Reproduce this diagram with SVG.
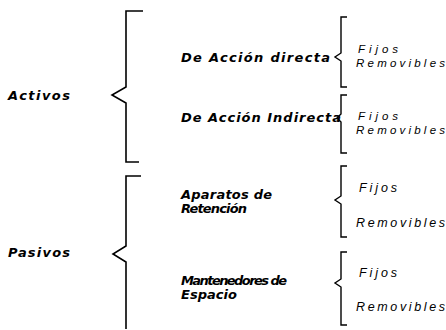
<svg xmlns="http://www.w3.org/2000/svg" width="446" height="330" viewBox="0 0 446 330">
<style>
.br{fill:none;stroke:#000;stroke-width:1.6;stroke-linejoin:miter}
.sb{fill:none;stroke:#000;stroke-width:1.4}
.m{font-family:"DejaVu Sans",sans-serif;font-size:13px;font-weight:bold;font-style:italic;fill:#000}
.s{font-family:"Liberation Sans",Arial,sans-serif;font-size:11.5px;font-style:italic;fill:#000}
.l{font-size:12.5px}
</style>
<rect width="446" height="330" fill="#fff"/>
<g id="connectors">
<path class="br" d="M143,11 L126,11 L126,87 L112,95 L126,103 L126,162 L139,162"/>
<path class="br" d="M141,176 L126,176 L126,246 L113,254 L126,262 L126,329"/>
<path class="sb" d="M347,17 L341,17 L341,53 L335,57 L341,61 L341,87 L347,87"/>
<path class="sb" d="M347,95 L341,95 L341,114 L337,118 L341,122 L341,153 L347,153"/>
<path class="sb" d="M347,166 L341,166 L341,196 L335,200 L341,204 L341,237 L347,237"/>
<path class="sb" d="M347,252 L341,252 L341,279 L335,283 L341,287 L341,325 L347,325"/>
</g>
<g id="activos"><text class="m" x="8" y="100" textLength="62" lengthAdjust="spacing">Activos</text></g>
<g id="pasivos"><text class="m" x="8" y="257" textLength="62" lengthAdjust="spacing">Pasivos</text></g>
<g id="accion-directa"><text class="m" x="181" y="62" textLength="149" lengthAdjust="spacing">De Acción directa</text></g>
<g id="accion-indirecta"><text class="m" x="181" y="122" textLength="160" lengthAdjust="spacing">De Acción Indirecta</text></g>
<g id="aparatos"><text class="m" x="181" y="199" textLength="91" lengthAdjust="spacing">Aparatos de</text><text class="m" x="181" y="213" textLength="66" lengthAdjust="spacing">Retención</text></g>
<g id="mantenedores"><text class="m" x="181" y="285" textLength="106" lengthAdjust="spacing">Mantenedores de</text><text class="m" x="181" y="299" textLength="56" lengthAdjust="spacing">Espacio</text></g>
<g id="d-fijos"><text class="s" x="358" y="53" textLength="40" lengthAdjust="spacing">Fijos</text></g>
<g id="d-removibles"><text class="s" x="356" y="67" textLength="89" lengthAdjust="spacing">Removibles</text></g>
<g id="i-fijos"><text class="s" x="358" y="120" textLength="40" lengthAdjust="spacing">Fijos</text></g>
<g id="i-removibles"><text class="s" x="356" y="134" textLength="89" lengthAdjust="spacing">Removibles</text></g>
<g id="a-fijos"><text class="s l" x="359" y="192" textLength="38" lengthAdjust="spacing">Fijos</text></g>
<g id="a-removibles"><text class="s l" x="356" y="227" textLength="89" lengthAdjust="spacing">Removibles</text></g>
<g id="m-fijos"><text class="s l" x="359" y="277" textLength="38" lengthAdjust="spacing">Fijos</text></g>
<g id="m-removibles"><text class="s l" x="356" y="311" textLength="89" lengthAdjust="spacing">Removibles</text></g>
</svg>
